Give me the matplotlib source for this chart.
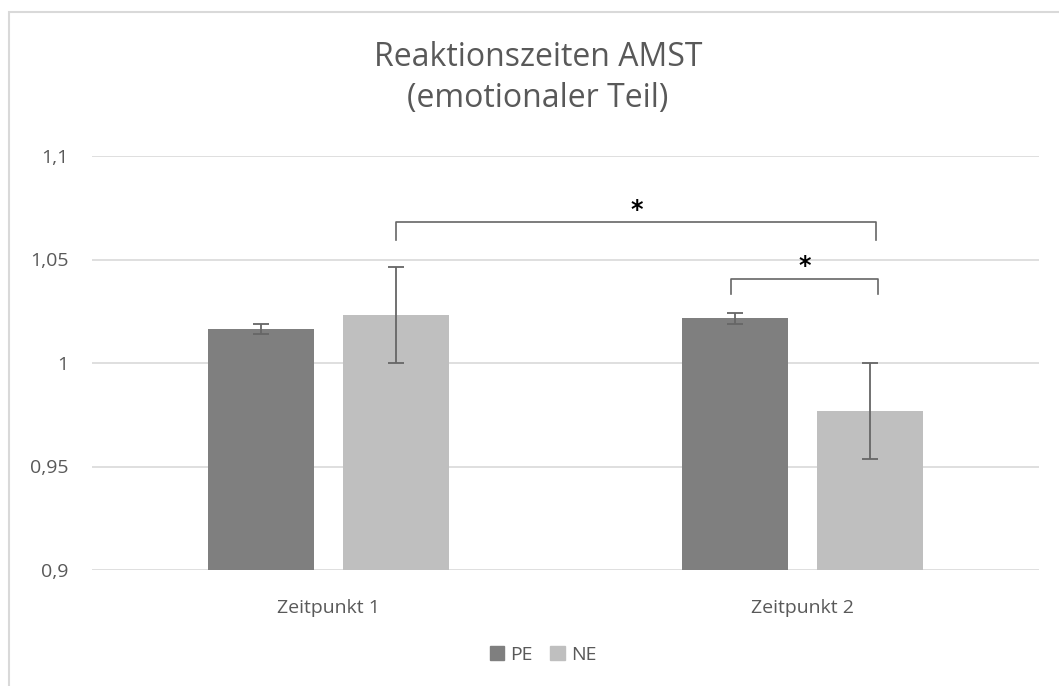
import matplotlib.pyplot as plt
import numpy as np
from matplotlib.patches import Rectangle, Patch

# data
kategorien = ["Zeitpunkt 1", "Zeitpunkt 2"]
pe_werte = [1.0165, 1.0215]
ne_werte = [1.0232, 0.9768]
pe_fehler = [0.0024, 0.0025]
ne_fehler = [0.023, 0.023]
y_ticks = [0.9, 0.95, 1.0, 1.05, 1.1]
y_labels = ["0,9", "0,95", "1", "1,05", "1,1"]

# significance brackets: x links, x rechts, y oben, y unten, y stern
klammern = [
    (0.143, 1.156, 1.068, 1.0595, 1.0738),
    (0.850, 1.160, 1.0406, 1.0333, 1.0468),
]

GRAU_TEXT = "#595959"
GRID = "#d9d9d9"

plt.rcParams["font.family"] = ["Open Sans", "DejaVu Sans"]

fig = plt.figure(figsize=(10.59, 6.86), dpi=100)
W, H = 1059, 686
ax = fig.add_axes([92 / W, 1 - 570 / H, (1039 - 92) / W, (570 - 156) / H])

x = np.arange(len(kategorien))
breite = 0.224
abstand = 0.1426

ax.bar(x - abstand, pe_werte, breite, color="#7f7f7f", zorder=2, label="PE")
ax.bar(x + abstand, ne_werte, breite, color="#bfbfbf", zorder=2, label="NE")
ax.errorbar(x - abstand, pe_werte, yerr=pe_fehler, fmt="none",
            ecolor="#666666", elinewidth=1.3, capsize=6, capthick=1.3, zorder=3)
ax.errorbar(x + abstand, ne_werte, yerr=ne_fehler, fmt="none",
            ecolor="#666666", elinewidth=1.3, capsize=6, capthick=1.3, zorder=3)

ax.set_xlim(-0.5, 1.5)
ax.set_ylim(0.9, 1.1)
ax.set_yticks(y_ticks)
ax.set_yticklabels(y_labels)
ax.set_xticks(x)
ax.set_xticklabels(kategorien)
ax.tick_params(axis="both", length=0, colors=GRAU_TEXT, labelsize=14)
ax.tick_params(axis="y", pad=17)
ax.tick_params(axis="x", pad=21)
ax.grid(axis="y", color=GRID, linewidth=1.2, zorder=0)
ax.set_axisbelow(True)
for s in ax.spines.values():
    s.set_visible(False)

for x1, x2, yo, yu, ys in klammern:
    ax.plot([x1, x1, x2, x2], [yu, yo, yo, yu], color="#666666", lw=1.2,
            zorder=4, solid_joinstyle="round")
    ax.text((x1 + x2) / 2, ys, "*", ha="center", va="center", fontsize=17,
            fontweight="bold", color="black", family="DejaVu Sans")

fig.text(538 / W, 1 - 58 / H, "Reaktionszeiten AMST", ha="center", va="center",
         fontsize=23, color=GRAU_TEXT)
fig.text(538 / W, 1 - 98 / H, "(emotionaler Teil)", ha="center", va="center",
         fontsize=23, color=GRAU_TEXT)

handles = [Patch(color="#7f7f7f", label="PE"), Patch(color="#bfbfbf", label="NE")]
fig.legend(handles=handles, loc="center", bbox_to_anchor=(543 / W, 1 - 655 / H),
           ncol=2, frameon=False, fontsize=14, handlelength=0.75, handleheight=0.75,
           handletextpad=0.3, columnspacing=0.9, labelcolor=GRAU_TEXT)

fig.patches.append(Rectangle((9 / W, -0.1), 1.2, (H - 12) / H + 0.1,
                             transform=fig.transFigure, fill=False,
                             edgecolor=GRID, lw=1.5))

fig.savefig("out.png", dpi=100)
